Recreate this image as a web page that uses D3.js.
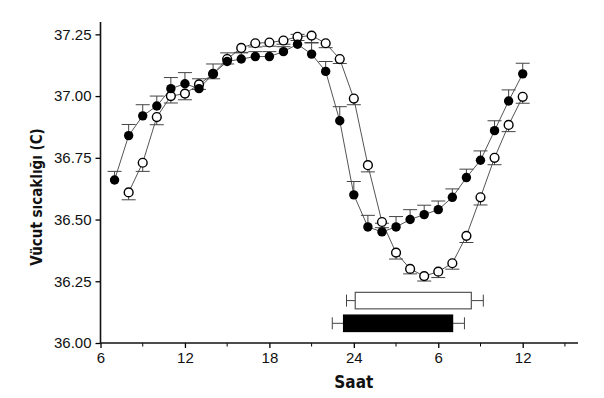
<!DOCTYPE html>
<html>
<head>
<meta charset="utf-8">
<script src="https://cdn.jsdelivr.net/npm/d3@7/dist/d3.min.js"></script>
<style>
  body { margin: 0; background: #fff; }
  svg { display: block; }
  .tick text { font-family: "Liberation Sans", Arial, sans-serif; font-size: 15px; fill: #111; }
  .lbl { font-family: "Liberation Sans Narrow", "DejaVu Sans Condensed", "Liberation Sans", sans-serif; font-weight: bold; fill: #111; }
</style>
</head>
<body>
<div id="chart"></div>
<script>
// hours on a continuous clock (24 = midnight, 30 = 06:00 next day)
var hours = [7, 8, 9, 10, 11, 12, 13, 14, 15, 16, 17, 18, 19, 20, 21, 22, 23, 24,
             25, 26, 27, 28, 29, 30, 31, 32, 33, 34, 35, 36];

// filled circles
var filledTemp = [36.66, 36.84, 36.92, 36.96, 37.03, 37.05, 37.03, 37.09, 37.14, 37.15, 37.16, 37.16, 37.18, 37.21, 37.17, 37.10, 36.90, 36.60,
                  36.47, 36.45, 36.47, 36.50, 36.52, 36.54, 36.59, 36.67, 36.74, 36.86, 36.98, 37.09];
var filledErr  = [0.035, 0.045, 0.045, 0.04, 0.045, 0.045, 0.04, 0.04, 0.035, 0.025, 0.02, 0.02, 0.02, 0.04, 0.045, 0.04, 0.057, 0.054,
                  0.047, 0.035, 0.042, 0.04, 0.038, 0.035, 0.034, 0.034, 0.038, 0.04, 0.045, 0.043];

// open circles (start at 08:00)
var openHours = hours.slice(1);
var openTemp = [36.61, 36.73, 36.915, 37.00, 37.01, 37.047, 37.09, 37.15, 37.195, 37.214, 37.217, 37.225, 37.24, 37.245, 37.214, 37.15, 36.99,
                36.72, 36.49, 36.366, 36.30, 36.271, 36.289, 36.323, 36.434, 36.59, 36.75, 36.883, 36.997];
var openErr  = [0.03, 0.035, 0.031, 0.028, 0.025, 0.02, 0.02, 0.02, 0.018, 0.015, 0.015, 0.015, 0.015, 0.028, 0.018, 0.018, 0.025,
                0.027, 0.023, 0.026, 0.02, 0.02, 0.024, 0.024, 0.027, 0.031, 0.028, 0.027, 0.026];

// sleep periods: [start, startSD, end, endSD]
var sleepOpen   = [24.1, 0.62, 32.35, 0.85];
var sleepFilled = [23.27, 0.8, 31.02, 0.84];

var xTicks = [6, 12, 18, 24, 30, 36];
var xMinor = [9, 15, 21, 27, 33, 39];
var yTicks = [36.00, 36.25, 36.50, 36.75, 37.00, 37.25];

var width = 604, height = 398;

var x = d3.scaleLinear().domain([6, 40]).range([100.5, 579]);
var y = d3.scaleLinear().domain([36, 37.3]).range([343, 22]);

var svg = d3.select("#chart").append("svg")
    .attr("width", width)
    .attr("height", height);

var line = d3.line()
    .x(function(d) { return x(d[0]); })
    .y(function(d) { return y(d[1]); });

var filled = hours.map(function(h, i) { return [h, filledTemp[i], filledErr[i]]; });
var open = openHours.map(function(h, i) { return [h, openTemp[i], openErr[i]]; });

// connecting lines
[filled, open].forEach(function(s) {
  svg.append("path")
      .attr("d", line(s))
      .attr("fill", "none")
      .attr("stroke", "#555")
      .attr("stroke-width", 1);
});

// error bars: filled go up, open go down
function errBars(data, dir) {
  var g = svg.append("g").attr("stroke", "#444").attr("stroke-width", 1);
  g.selectAll("line.v").data(data).enter().append("line")
      .attr("x1", function(d) { return x(d[0]); })
      .attr("x2", function(d) { return x(d[0]); })
      .attr("y1", function(d) { return y(d[1]); })
      .attr("y2", function(d) { return y(d[1] + dir * d[2]); });
  g.selectAll("line.c").data(data).enter().append("line")
      .attr("x1", function(d) { return x(d[0]) - 7; })
      .attr("x2", function(d) { return x(d[0]) + 7; })
      .attr("y1", function(d) { return y(d[1] + dir * d[2]); })
      .attr("y2", function(d) { return y(d[1] + dir * d[2]); });
}
errBars(filled, 1);
errBars(open, -1);

svg.append("g").selectAll("circle").data(open).enter().append("circle")
    .attr("cx", function(d) { return x(d[0]); })
    .attr("cy", function(d) { return y(d[1]); })
    .attr("r", 4.4)
    .attr("fill", "#fff")
    .attr("stroke", "#000")
    .attr("stroke-width", 1.4);

svg.append("g").selectAll("circle").data(filled).enter().append("circle")
    .attr("cx", function(d) { return x(d[0]); })
    .attr("cy", function(d) { return y(d[1]); })
    .attr("r", 4.7)
    .attr("fill", "#000");

// sleep bars
function sleepBar(s, cy, fill) {
  var g = svg.append("g");
  var h = 16.5;
  g.append("line")
      .attr("x1", x(s[0] - s[1])).attr("x2", x(s[2] + s[3]))
      .attr("y1", cy).attr("y2", cy)
      .attr("stroke", "#444");
  [s[0] - s[1], s[2] + s[3]].forEach(function(v) {
    g.append("line")
        .attr("x1", x(v)).attr("x2", x(v))
        .attr("y1", cy - 6).attr("y2", cy + 6)
        .attr("stroke", "#444");
  });
  g.append("rect")
      .attr("x", x(s[0]))
      .attr("y", cy - h / 2)
      .attr("width", x(s[2]) - x(s[0]))
      .attr("height", h)
      .attr("fill", fill)
      .attr("stroke", fill == "#000" ? "#000" : "#555")
      .attr("stroke-width", 1.2);
}
sleepBar(sleepOpen, 300.6, "#fff");
sleepBar(sleepFilled, 323.3, "#000");

// axes
var xAxis = svg.append("g")
    .attr("transform", "translate(0," + y(36) + ")")
    .call(d3.axisBottom(x).tickValues(xTicks).tickSize(5).tickPadding(4)
      .tickFormat(function(d) { var h = d % 24; return h === 0 ? 24 : h; }));
xAxis.select(".domain").remove();
xAxis.append("g").selectAll("line").data(xMinor).enter().append("line")
    .attr("x1", function(d) { return x(d); })
    .attr("x2", function(d) { return x(d); })
    .attr("y1", 0).attr("y2", 3.5)
    .attr("stroke", "#000");
xAxis.append("line")
    .attr("x1", x(6)).attr("x2", 578)
    .attr("stroke", "#111").attr("stroke-width", 1.6);

var yAxis = svg.append("g")
    .attr("transform", "translate(" + x(6) + ",0)")
    .call(d3.axisLeft(y).tickValues(yTicks).tickSize(5).tickPadding(4)
      .tickFormat(d3.format(".2f")));
yAxis.select(".domain").remove();
yAxis.append("line")
    .attr("y1", y(36)).attr("y2", 22)
    .attr("stroke", "#111").attr("stroke-width", 1.6);
svg.selectAll(".tick line").attr("stroke-width", 1.3);

svg.append("text")
    .attr("class", "lbl")
    .attr("transform", "translate(42,197) rotate(-90)")
    .attr("text-anchor", "middle")
    .style("font-size", "15px")
    .text("Vücut sıcaklığı (C)");

svg.append("text")
    .attr("class", "lbl")
    .attr("x", x(24))
    .attr("y", 388)
    .attr("text-anchor", "middle")
    .style("font-size", "17px")
    .text("Saat");
</script>
</body>
</html>
